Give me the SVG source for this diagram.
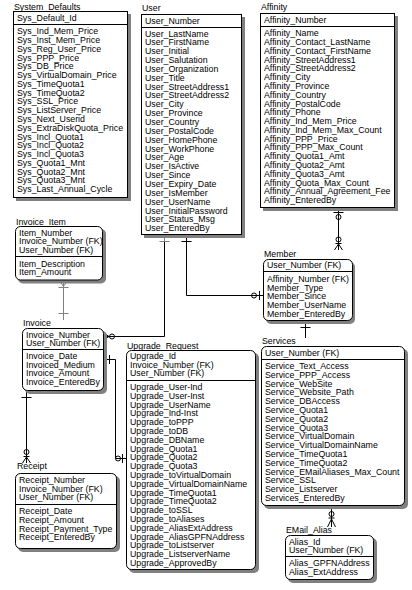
<svg xmlns="http://www.w3.org/2000/svg" width="412" height="590" viewBox="0 0 412 590">
<style>
text { font-family: "Liberation Sans", Arial, sans-serif; font-size: 8.8px; fill: #000; }
.box { fill: #fff; stroke: #000; stroke-width: 1; }
.shadow { fill: #808080; }
.sep { stroke: #000; stroke-width: 1; }
.conn path, .conn line { stroke: #000; stroke-width: 1; fill: none; }
.conn circle { stroke: #000; stroke-width: 1; fill: none; }
.conn .grey { stroke: #808080; }
</style>
<rect width="412" height="590" fill="#fff"/>

<g id="connectors" class="conn">
  <!-- Invoice_Item - Invoice -->
  <path class="grey" d="M63.5 280V320"/>
  <path class="grey" d="M59.5 280.5L63.5 286.5L67.5 280.5"/>
  <path class="grey" d="M58.5 287.5H68.5"/>
  <path class="grey" d="M58.5 313.5H68.5"/>
  <!-- User - Invoice -->
  <path d="M164.5 242V336.5H103"/>
  <path class="grey" d="M164.5 235V242M159.5 241.5H169.5"/>
  <path d="M103 332.5L109 336.5L103 340.5"/>
  <circle cx="112" cy="336.5" r="2.5"/>
  <!-- User - Member -->
  <path d="M186.5 235V295.5H263"/>
  <path d="M181.5 241.5H191.5"/>
  <circle cx="254" cy="295.5" r="2.5"/>
  <path d="M259.5 291V300"/>
  <!-- Invoice - Upgrade_Request -->
  <path d="M103 359.5H115.5V458.5H126"/>
  <path d="M109.5 355V364"/>
  <circle cx="118" cy="458.5" r="2.5"/>
  <path d="M122.5 454V463"/>
  <!-- Invoice - Receipt -->
  <path d="M26.5 390V463"/>
  <path d="M21.5 397.5H31.5"/>
  <circle cx="26.5" cy="452" r="2.5"/>
  <path d="M23.5 456.5H29.5"/>
  <path d="M22.5 463L26.5 457L30.5 463"/>
  <!-- Affinity - Member -->
  <path d="M338.5 207V250"/>
  <path d="M333.5 212.5H343.5"/>
  <circle cx="338.5" cy="217" r="2.5"/>
  <circle cx="338.5" cy="239.5" r="2.5"/>
  <path d="M335.5 243.5H341.5"/>
  <path d="M334.5 250L338.5 244L342.5 250"/>
  <!-- Member - Services -->
  <path d="M305.5 321V338"/>
  <path d="M300.5 327.5H310.5"/>
  <!-- Services - EMail_Alias -->
  <path d="M331.5 506V527"/>
  <circle cx="331.5" cy="514" r="2.5"/>
  <path d="M328.5 518H334.5"/>
  <path d="M327.5 527L331.5 519L335.5 527"/>
</g>

<g id="System_Defaults">
  <text x="14" y="10">System_Defaults</text>
  <rect class="shadow" x="16" y="14" width="115" height="187"/>
  <rect class="box" x="13.5" y="11.5" width="114" height="186"/>
  <line class="sep" x1="13.5" y1="24.5" x2="127.5" y2="24.5"/>
  <text x="17" y="21">Sys_Default_Id</text>
  <text x="17" y="34.2">
    <tspan x="17">Sys_Ind_Mem_Price</tspan>
    <tspan x="17" dy="8.78">Sys_Inst_Mem_Price</tspan>
    <tspan x="17" dy="8.78">Sys_Reg_User_Price</tspan>
    <tspan x="17" dy="8.78">Sys_PPP_Price</tspan>
    <tspan x="17" dy="8.78">Sys_DB_Price</tspan>
    <tspan x="17" dy="8.78">Sys_VirtualDomain_Price</tspan>
    <tspan x="17" dy="8.78">Sys_TimeQuota1</tspan>
    <tspan x="17" dy="8.78">Sys_TimeQuota2</tspan>
    <tspan x="17" dy="8.78">Sys_SSL_Price</tspan>
    <tspan x="17" dy="8.78">Sys_ListServer_Price</tspan>
    <tspan x="17" dy="8.78">Sys_Next_Userid</tspan>
    <tspan x="17" dy="8.78">Sys_ExtraDiskQuota_Price</tspan>
    <tspan x="17" dy="8.78">Sys_Incl_Quota1</tspan>
    <tspan x="17" dy="8.78">Sys_Incl_Quota2</tspan>
    <tspan x="17" dy="8.78">Sys_Incl_Quota3</tspan>
    <tspan x="17" dy="8.78">Sys_Quota1_Mnt</tspan>
    <tspan x="17" dy="8.78">Sys_Quota2_Mnt</tspan>
    <tspan x="17" dy="8.78">Sys_Quota3_Mnt</tspan>
    <tspan x="17" dy="8.78">Sys_Last_Annual_Cycle</tspan>
  </text>
</g>

<g id="User">
  <text x="142" y="11">User</text>
  <rect class="shadow" x="144" y="17" width="101" height="221"/>
  <rect class="box" x="141.5" y="14.5" width="100" height="220"/>
  <line class="sep" x1="141.5" y1="27.5" x2="241.5" y2="27.5"/>
  <text x="145" y="23.5">User_Number</text>
  <text x="145" y="36.5">
    <tspan x="145">User_LastName</tspan>
    <tspan x="145" dy="8.85">User_FirstName</tspan>
    <tspan x="145" dy="8.85">User_Initial</tspan>
    <tspan x="145" dy="8.85">User_Salutation</tspan>
    <tspan x="145" dy="8.85">User_Organization</tspan>
    <tspan x="145" dy="8.85">User_Title</tspan>
    <tspan x="145" dy="8.85">User_StreetAddress1</tspan>
    <tspan x="145" dy="8.85">User_StreetAddress2</tspan>
    <tspan x="145" dy="8.85">User_City</tspan>
    <tspan x="145" dy="8.85">User_Province</tspan>
    <tspan x="145" dy="8.85">User_Country</tspan>
    <tspan x="145" dy="8.85">User_PostalCode</tspan>
    <tspan x="145" dy="8.85">User_HomePhone</tspan>
    <tspan x="145" dy="8.85">User_WorkPhone</tspan>
    <tspan x="145" dy="8.85">User_Age</tspan>
    <tspan x="145" dy="8.85">User_IsActive</tspan>
    <tspan x="145" dy="8.85">User_Since</tspan>
    <tspan x="145" dy="8.85">User_Expiry_Date</tspan>
    <tspan x="145" dy="8.85">User_IsMember</tspan>
    <tspan x="145" dy="8.85">User_UserName</tspan>
    <tspan x="145" dy="8.85">User_InitialPassword</tspan>
    <tspan x="145" dy="8.85">User_Status_Msg</tspan>
    <tspan x="145" dy="8.85">User_EnteredBy</tspan>
  </text>
</g>

<g id="Affinity">
  <text x="261" y="10">Affinity</text>
  <rect class="shadow" x="263" y="16" width="135" height="195"/>
  <rect class="box" x="260.5" y="13.5" width="134" height="194"/>
  <line class="sep" x1="260.5" y1="26.5" x2="394.5" y2="26.5"/>
  <text x="264" y="22.5">Affinity_Number</text>
  <text x="264" y="36.3">
    <tspan x="264">Affinity_Name</tspan>
    <tspan x="264" dy="8.78">Affinity_Contact_LastName</tspan>
    <tspan x="264" dy="8.78">Affinity_Contact_FirstName</tspan>
    <tspan x="264" dy="8.78">Affinity_StreetAddress1</tspan>
    <tspan x="264" dy="8.78">Affinity_StreetAddress2</tspan>
    <tspan x="264" dy="8.78">Affinity_City</tspan>
    <tspan x="264" dy="8.78">Affinity_Province</tspan>
    <tspan x="264" dy="8.78">Affinity_Country</tspan>
    <tspan x="264" dy="8.78">Affinity_PostalCode</tspan>
    <tspan x="264" dy="8.78">Affinity_Phone</tspan>
    <tspan x="264" dy="8.78">Affinity_Ind_Mem_Price</tspan>
    <tspan x="264" dy="8.78">Affinity_Ind_Mem_Max_Count</tspan>
    <tspan x="264" dy="8.78">Affinity_PPP_Price</tspan>
    <tspan x="264" dy="8.78">Affinity_PPP_Max_Count</tspan>
    <tspan x="264" dy="8.78">Affinity_Quota1_Amt</tspan>
    <tspan x="264" dy="8.78">Affinity_Quota2_Amt</tspan>
    <tspan x="264" dy="8.78">Affinity_Quota3_Amt</tspan>
    <tspan x="264" dy="8.78">Affinity_Quota_Max_Count</tspan>
    <tspan x="264" dy="8.78">Affinity_Annual_Agreement_Fee</tspan>
    <tspan x="264" dy="8.78">Affinity_EnteredBy</tspan>
  </text>
</g>

<g id="Invoice_Item">
  <text x="16" y="225">Invoice_Item</text>
  <rect class="shadow" x="18" y="229" width="88" height="54.5" rx="5"/>
  <rect class="box" x="15.5" y="226.5" width="87" height="53.5" rx="5"/>
  <line class="sep" x1="15.5" y1="256.5" x2="102.5" y2="256.5"/>
  <text x="19" y="235.5">
    <tspan x="19">Item_Number</tspan>
    <tspan x="19" dy="8.6">Invoice_Number (FK)</tspan>
    <tspan x="19" dy="8.6">User_Number (FK)</tspan>
  </text>
  <text x="19" y="266.5">
    <tspan x="19">Item_Description</tspan>
    <tspan x="19" dy="8.6">Item_Amount</tspan>
  </text>
</g>

<g id="Invoice">
  <text x="23" y="326">Invoice</text>
  <rect class="shadow" x="25" y="331" width="82" height="63" rx="5"/>
  <rect class="box" x="22.5" y="328.5" width="81" height="62" rx="5"/>
  <line class="sep" x1="22.5" y1="349.5" x2="103.5" y2="349.5"/>
  <text x="26" y="337.5">
    <tspan x="26">Invoice_Number</tspan>
    <tspan x="26" dy="8.5">User_Number (FK)</tspan>
  </text>
  <text x="26" y="359">
    <tspan x="26">Invoice_Date</tspan>
    <tspan x="26" dy="8.7">Invoiced_Medium</tspan>
    <tspan x="26" dy="8.7">Invoice_Amount</tspan>
    <tspan x="26" dy="8.7">Invoice_EnteredBy</tspan>
  </text>
</g>

<g id="Receipt">
  <text x="17" y="469">Receipt</text>
  <rect class="shadow" x="18" y="476" width="102" height="76" rx="5"/>
  <rect class="box" x="15.5" y="473.5" width="101" height="75" rx="5"/>
  <line class="sep" x1="15.5" y1="504.5" x2="116.5" y2="504.5"/>
  <text x="19" y="483">
    <tspan x="19">Receipt_Number</tspan>
    <tspan x="19" dy="8.7">Invoice_Number (FK)</tspan>
    <tspan x="19" dy="8.7">User_Number (FK)</tspan>
  </text>
  <text x="19" y="514">
    <tspan x="19">Receipt_Date</tspan>
    <tspan x="19" dy="8.8">Receipt_Amount</tspan>
    <tspan x="19" dy="8.8">Receipt_Payment_Type</tspan>
    <tspan x="19" dy="8.8">Receipt_EnteredBy</tspan>
  </text>
</g>

<g id="Upgrade_Request">
  <text x="127" y="349">Upgrade_Request</text>
  <rect class="shadow" x="129" y="353" width="130" height="220" rx="5"/>
  <rect class="box" x="126.5" y="350.5" width="129" height="219" rx="5"/>
  <line class="sep" x1="126.5" y1="380.5" x2="255.5" y2="380.5"/>
  <text x="130" y="359">
    <tspan x="130">Upgrade_Id</tspan>
    <tspan x="130" dy="8.7">Invoice_Number (FK)</tspan>
    <tspan x="130" dy="8.7">User_Number (FK)</tspan>
  </text>
  <text x="130" y="390">
    <tspan x="130">Upgrade_User-Ind</tspan>
    <tspan x="130" dy="8.8">Upgrade_User-Inst</tspan>
    <tspan x="130" dy="8.8">Upgrade_UserName</tspan>
    <tspan x="130" dy="8.8">Upgrade_Ind-Inst</tspan>
    <tspan x="130" dy="8.8">Upgrade_toPPP</tspan>
    <tspan x="130" dy="8.8">Upgrade_toDB</tspan>
    <tspan x="130" dy="8.8">Upgrade_DBName</tspan>
    <tspan x="130" dy="8.8">Upgrade_Quota1</tspan>
    <tspan x="130" dy="8.8">Upgrade_Quota2</tspan>
    <tspan x="130" dy="8.8">Upgrade_Quota3</tspan>
    <tspan x="130" dy="8.8">Upgrade_toVirtualDomain</tspan>
    <tspan x="130" dy="8.8">Upgrade_VirtualDomainName</tspan>
    <tspan x="130" dy="8.8">Upgrade_TimeQuota1</tspan>
    <tspan x="130" dy="8.8">Upgrade_TimeQuota2</tspan>
    <tspan x="130" dy="8.8">Upgrade_toSSL</tspan>
    <tspan x="130" dy="8.8">Upgrade_toAliases</tspan>
    <tspan x="130" dy="8.8">Upgrade_AliasExtAddress</tspan>
    <tspan x="130" dy="8.8">Upgrade_AliasGPFNAddress</tspan>
    <tspan x="130" dy="8.8">Upgrade_toListserver</tspan>
    <tspan x="130" dy="8.8">Upgrade_ListserverName</tspan>
    <tspan x="130" dy="8.8">Upgrade_ApprovedBy</tspan>
  </text>
</g>

<g id="Member">
  <text x="264" y="257">Member</text>
  <rect class="shadow" x="266" y="262" width="89" height="62" rx="5"/>
  <rect class="box" x="263.5" y="259.5" width="89" height="61" rx="5"/>
  <line class="sep" x1="263.5" y1="271.5" x2="352.5" y2="271.5"/>
  <text x="267" y="268">User_Number (FK)</text>
  <text x="267" y="282">
    <tspan x="267">Affinity_Number (FK)</tspan>
    <tspan x="267" dy="8.7">Member_Type</tspan>
    <tspan x="267" dy="8.7">Member_Since</tspan>
    <tspan x="267" dy="8.7">Member_UserName</tspan>
    <tspan x="267" dy="8.7">Member_EnteredBy</tspan>
  </text>
</g>

<g id="Services">
  <text x="262" y="344">Services</text>
  <rect class="shadow" x="264" y="349" width="144" height="160" rx="5"/>
  <rect class="box" x="261.5" y="346.5" width="143" height="159" rx="5"/>
  <line class="sep" x1="261.5" y1="359.5" x2="404.5" y2="359.5"/>
  <text x="265" y="355.5">User_Number (FK)</text>
  <text x="265" y="369">
    <tspan x="265">Service_Text_Access</tspan>
    <tspan x="265" dy="8.8">Service_PPP_Access</tspan>
    <tspan x="265" dy="8.8">Service_WebSite</tspan>
    <tspan x="265" dy="8.8">Service_Website_Path</tspan>
    <tspan x="265" dy="8.8">Service_DBAccess</tspan>
    <tspan x="265" dy="8.8">Service_Quota1</tspan>
    <tspan x="265" dy="8.8">Service_Quota2</tspan>
    <tspan x="265" dy="8.8">Service_Quota3</tspan>
    <tspan x="265" dy="8.8">Service_VirtualDomain</tspan>
    <tspan x="265" dy="8.8">Service_VirtualDomainName</tspan>
    <tspan x="265" dy="8.8">Service_TimeQuota1</tspan>
    <tspan x="265" dy="8.8">Service_TimeQuota2</tspan>
    <tspan x="265" dy="8.8">Service_EMailAliases_Max_Count</tspan>
    <tspan x="265" dy="8.8">Service_SSL</tspan>
    <tspan x="265" dy="8.8">Service_Listserver</tspan>
    <tspan x="265" dy="8.8">Services_EnteredBy</tspan>
  </text>
</g>

<g id="EMail_Alias">
  <text x="286" y="533">EMail_Alias</text>
  <rect class="shadow" x="288" y="538" width="89" height="45" rx="5"/>
  <rect class="box" x="285.5" y="535.5" width="88" height="44" rx="5"/>
  <line class="sep" x1="285.5" y1="556.5" x2="373.5" y2="556.5"/>
  <text x="289" y="544.5">
    <tspan x="289">Alias_Id</tspan>
    <tspan x="289" dy="8.7">User_Number (FK)</tspan>
  </text>
  <text x="289" y="566">
    <tspan x="289">Alias_GPFNAddress</tspan>
    <tspan x="289" dy="8.7">Alias_ExtAddress</tspan>
  </text>
</g>
</svg>
